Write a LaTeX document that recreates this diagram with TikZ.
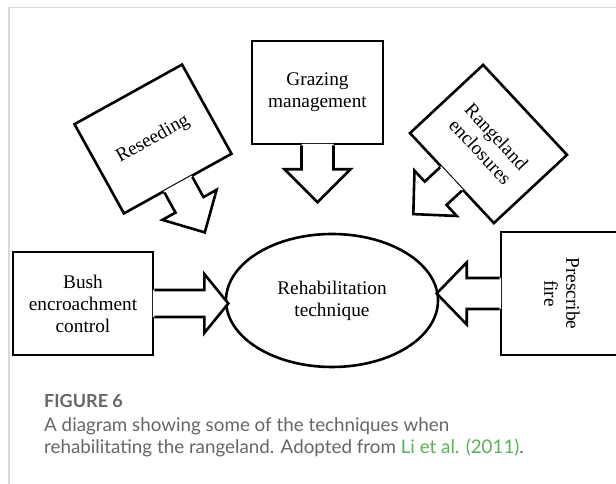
\documentclass[tikz,border=0pt]{standalone}
\usepackage{fontspec}
\setmainfont{Liberation Serif}
\newfontfamily\capfont{Lato}
\usetikzlibrary{shapes.geometric}
\definecolor{capgray}{RGB}{102,102,102}
\definecolor{refgreen}{RGB}{88,178,88}
\definecolor{framegray}{RGB}{216,216,216}
\tikzset{
	outline/.style={line width=2.6pt, line join=miter},
	callout/.style={draw, outline, rectangle, inner sep=0pt, align=center, font=\fontsize{19.3}{22}\selectfont},
	capline/.style={anchor=base west, inner sep=0pt, capgray, font=\capfont\fontsize{18.8}{22}\selectfont},
}
\newcommand{\calloutarrow}[6]{%
	\begin{scope}[shift={(#1)}, rotate=#2]
		\fill[white] (-#3,1.5) -- (-#3,-#4) -- (-#5,-#4) -- (0,-#4-#6) -- (#5,-#4) -- (#3,-#4) -- (#3,1.5) -- cycle;
		\draw[outline] (-#3,0) -- (-#3,-#4) -- (-#5,-#4) -- (0,-#4-#6) -- (#5,-#4) -- (#3,-#4) -- (#3,0);
	\end{scope}}
\begin{document}
\begin{tikzpicture}[x=1pt, y=1pt]
			\useasboundingbox (0,0) rectangle (616,484);
			\clip (0,0) rectangle (616,484);
			\draw[framegray, line width=1.5pt] (9,0) -- (9,476.5) -- (616,476.5);
			\node[callout, minimum width=131, minimum height=103] (graze) at (317.5,391.5){Grazing\\management};
			\node[callout, minimum width=123, minimum height=102, rotate=29] (reseed) at (153,345){Reseeding};
			\node[callout, minimum width=123, minimum height=100, rotate=-47] (enclose) at (488.5,340){Rangeland\\enclosures};
			\node[callout, minimum width=140, minimum height=103] (bush) at (83,180.5){Bush\\encroachment\\control};
			\node[callout, minimum width=123, minimum height=122, rotate=-90] (fire) at (562,190.5){Prescribe\\fire};
			\node[ellipse, draw, outline, inner sep=0pt, minimum width=212, minimum height=133, align=center, font=\fontsize{19.3}{22}\selectfont] (rehab) at (332,183.5){Rehabilitation\\technique};
			\calloutarrow{graze.south}{0}{16}{24}{33}{33}
			\calloutarrow{reseed.south}{29}{16}{23}{31}{31.5}
			\calloutarrow{enclose.south}{-47}{16}{21}{31}{30.5}
			\calloutarrow{bush.east}{90}{13.5}{50}{29.5}{24}
			\calloutarrow{fire.south}{-90}{15.5}{33}{31}{30}
			\node[capline, font=\capfont\bfseries\fontsize{18}{22}\selectfont] (fig) at (44,76){FIGURE 6};
			\node[capline] (capa) at (44,52){A diagram showing some of the techniques when};
			\node[capline] (capb) at (44,30){rehabilitating the rangeland. Adopted from \textcolor{refgreen}{Li et al. (2011)}.};
		\end{tikzpicture}
\end{document}
